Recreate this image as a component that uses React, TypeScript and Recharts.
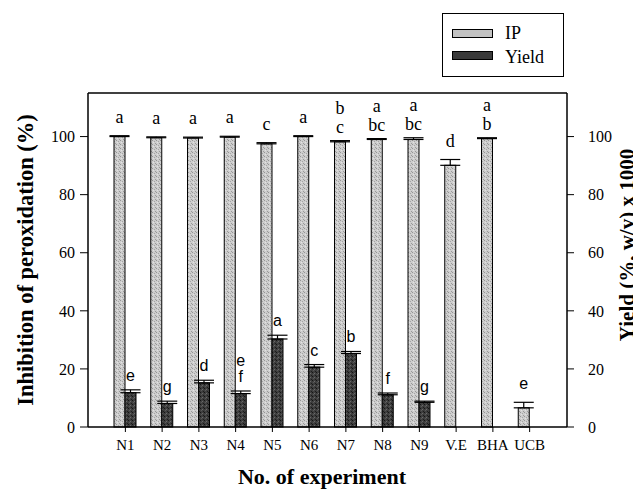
import { BarChart, Bar, XAxis, YAxis, ErrorBar, ReferenceLine, Label } from "recharts";

const categories = ["N1", "N2", "N3", "N4", "N5", "N6", "N7", "N8", "N9", "V.E", "BHA", "UCB"];
const ipValues = [100, 99.6, 99.5, 99.8, 97.5, 100, 98.2, 99, 99, 90.1, 99.3, 6.6];
const ipErrors = [0.3, 0.3, 0.3, 0.3, 0.4, 0.3, 0.4, 0.3, 0.6, 2, 0.3, 1.9];
const ipLetters = [["a"], ["a"], ["a"], ["a"], ["c"], ["a"], ["b", "c"], ["a", "bc"], ["a", "bc"], ["d"], ["a", "b"], ["e"]];
const yieldValues = [11.8, 8.1, 15.2, 11.5, 30.3, 20.6, 25.3, 11.1, 8.5, null, null, null];
const yieldErrors = [1, 0.8, 0.9, 0.9, 1.3, 0.9, 0.7, 0.6, 0.4, null, null, null];
const yieldLetters = [["e"], ["g"], ["d"], ["e", "f"], ["a"], ["c"], ["b"], ["f"], ["g"], [], [], []];
const yTicks = [0, 20, 40, 60, 80, 100];

const data = categories.map((name, i) => ({
  name,
  ip: ipValues[i],
  ipErr: [0, ipErrors[i]],
  ipLetters: ipLetters[i],
  yield: yieldValues[i],
  yieldErr: yieldValues[i] == null ? null : [0, yieldErrors[i]],
  yieldLetters: yieldLetters[i],
}));

const SERIF = '"Liberation Serif", "Times New Roman", serif';
const SANS = '"Liberation Sans", Arial, sans-serif';
const IP_FILL = "#c2c2c2";
const YIELD_FILL = "#3a3a3a";

function makeShape(key: "ip" | "yield") {
  return (props: any) => {
    const { x, y, width, height, payload } = props;
    const v = payload[key];
    if (v == null || !height) return <g />;
    const scale = height / v;
    const err = payload[key + "Err"] ? payload[key + "Err"][1] : 0;
    const top = y - err * scale;
    const lines: string[] = payload[key + "Letters"] || [];
    const sans = key === "yield" || payload.name === "UCB";
    const gap = key === "ip" ? (lines.length > 1 ? 8 : 13) : 9;
    const step = key === "ip" ? 19 : 16;
    return (
      <g>
        <rect x={x} y={y} width={width} height={height} fill={key === "ip" ? "url(#ipDots)" : "url(#yieldDots)"} stroke="#000" strokeWidth={1} />
        {lines.map((t, i) => (
          <text
            key={i}
            x={x + width / 2}
            y={top - gap - (lines.length - 1 - i) * step}
            textAnchor="middle"
            style={{ fontFamily: sans ? SANS : SERIF, fontSize: sans ? 16 : 18 }}
            fill="#000"
          >
            {t}
          </text>
        ))}
      </g>
    );
  };
}

// speckled fills, like the scanned print
function Patterns() {
  return (
    <svg width={0} height={0} style={{ position: "absolute" }}>
      <defs>
        <pattern id="ipDots" width={4} height={4} patternUnits="userSpaceOnUse">
          <rect width={4} height={4} fill="#cdcdcd" />
          <rect x={0} y={0} width={1} height={1} fill="#959595" />
          <rect x={2} y={1} width={1} height={1} fill="#a5a5a5" />
          <rect x={3} y={3} width={1} height={1} fill="#9a9a9a" />
          <rect x={1} y={2} width={1} height={1} fill="#e2e2e2" />
        </pattern>
        <pattern id="yieldDots" width={4} height={4} patternUnits="userSpaceOnUse">
          <rect width={4} height={4} fill="#3e3e3e" />
          <rect x={0} y={0} width={1} height={1} fill="#151515" />
          <rect x={2} y={1} width={1} height={1} fill="#6a6a6a" />
          <rect x={3} y={3} width={1} height={1} fill="#1c1c1c" />
          <rect x={1} y={2} width={1} height={1} fill="#5a5a5a" />
        </pattern>
      </defs>
    </svg>
  );
}

function LegendBox() {
  return (
    <div style={{ position: "absolute", left: 434, top: 5, border: "1px solid #000", width: 122, height: 64, boxSizing: "border-box", background: "#fff", fontSize: 18 }}>
      <div style={{ position: "absolute", left: 9, top: 15, width: 41, height: 9, background: IP_FILL, border: "1px solid #000", boxSizing: "border-box" }} />
      <div style={{ position: "absolute", left: 62, top: 9, lineHeight: "20px" }}>IP</div>
      <div style={{ position: "absolute", left: 9, top: 37, width: 41, height: 9, background: YIELD_FILL, border: "1px solid #000", boxSizing: "border-box" }} />
      <div style={{ position: "absolute", left: 62, top: 33, lineHeight: "20px" }}>Yield</div>
    </div>
  );
}

const axisProps = {
  axisLine: { stroke: "#000", strokeWidth: 1.5 },
  tickLine: { stroke: "#000" },
};

export default function App() {
  return (
    <div style={{ position: "relative", background: "#fff", width: 633, height: 485, fontFamily: SERIF, color: "#000" }}>
      <Patterns />
      <BarChart
        width={633}
        height={485}
        data={data}
        margin={{ top: 85, right: 0, bottom: 0, left: 0 }}
        barGap={0}
        barSize={11}
        style={{ fontFamily: SERIF }}
      >
        <XAxis
          dataKey="name"
          padding={{ left: 19, right: 19 }}
          height={66}
          tickSize={5}
          tickMargin={7}
          {...axisProps}
          tick={{ fill: "#000", fontSize: 15 }}
          interval={0}
        >
          <Label
            content={() => (
              <text x={314} y={476} textAnchor="middle" style={{ fontFamily: SERIF, fontSize: 22, fontWeight: "bold" }} fill="#000">
                No. of experiment
              </text>
            )}
          />
        </XAxis>
        <YAxis
          yAxisId="left"
          width={80}
          domain={[0, 115]}
          ticks={yTicks}
          tickSize={8}
          tickMargin={5}
          {...axisProps}
          tick={{ fill: "#000", fontSize: 16 }}
        >
          <Label
            content={() => (
              <text x={25} y={252} transform="rotate(-90 25 252)" textAnchor="middle" style={{ fontFamily: SERIF, fontSize: 22.5, fontWeight: "bold" }} fill="#000">
                Inhibition of peroxidation (%)
              </text>
            )}
          />
        </YAxis>
        <YAxis
          yAxisId="right"
          orientation="right"
          width={74}
          domain={[0, 115]}
          ticks={yTicks}
          tickSize={7}
          tickMargin={14}
          {...axisProps}
          tick={{ fill: "#000", fontSize: 16 }}
        >
          <Label
            content={() => (
              <text x={626} y={237} transform="rotate(-90 626 237)" textAnchor="middle" style={{ fontFamily: SERIF, fontSize: 21, fontWeight: "bold" }} fill="#000">
                Yield (%, w/v) x 1000
              </text>
            )}
          />
        </YAxis>
        <ReferenceLine yAxisId="left" y={115} stroke="#000" strokeWidth={1.5} />
        <Bar yAxisId="left" dataKey="ip" name="IP" fill={IP_FILL} isAnimationActive={false} shape={makeShape("ip")}>
          <ErrorBar dataKey="ipErr" width={10} stroke="#000" strokeWidth={1.2} />
        </Bar>
        <Bar yAxisId="right" dataKey="yield" name="Yield" fill={YIELD_FILL} isAnimationActive={false} shape={makeShape("yield")}>
          <ErrorBar dataKey="yieldErr" width={10} stroke="#000" strokeWidth={1.2} />
        </Bar>
      </BarChart>
      <LegendBox />
    </div>
  );
}
